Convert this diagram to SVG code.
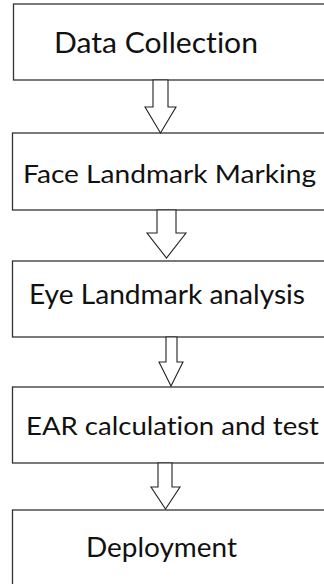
<svg xmlns="http://www.w3.org/2000/svg" width="324" height="584" viewBox="0 0 324 584">
<style>
.box{fill:#fff;stroke:#333;stroke-width:1.3}
.lbl{font-family:Lato,"Open Sans","Liberation Sans",sans-serif;fill:#111;font-variant-ligatures:none;font-feature-settings:"liga" 0,"clig" 0}
.arr{fill:#fff;stroke:#222;stroke-width:1.1;stroke-linejoin:miter}
</style>
<rect width="324" height="584" fill="#fff"/>
<g id="n1"><rect class="box" x="13.5" y="4" width="330" height="76"/><text class="lbl" x="54" y="53" font-size="29" textLength="204" lengthAdjust="spacingAndGlyphs">Data Collection</text></g>
<g id="n2"><rect class="box" x="12.5" y="133" width="330" height="77"/><text class="lbl" x="23" y="183" font-size="25" textLength="293" lengthAdjust="spacingAndGlyphs">Face Landmark Marking</text></g>
<g id="n3"><rect class="box" x="12.5" y="261" width="330" height="76"/><text class="lbl" x="29" y="304" font-size="26" textLength="276" lengthAdjust="spacingAndGlyphs">Eye Landmark analysis</text></g>
<g id="n4"><rect class="box" x="12.5" y="387" width="330" height="76"/><text class="lbl" x="26" y="435" font-size="25" textLength="293" lengthAdjust="spacingAndGlyphs">EAR calculation and test</text></g>
<g id="n5"><rect class="box" x="12.5" y="510" width="330" height="100"/><text class="lbl" x="86" y="557" font-size="26" textLength="151" lengthAdjust="spacingAndGlyphs">Deployment</text></g>
<g id="connectors">
<polygon class="arr" points="153,80 168,80 168,107 176,107 160.5,133 145,107 153,107"/>
<polygon class="arr" points="157,210 176,210 176,233 186,233 166.5,258 147,233 157,233"/>
<polygon class="arr" points="166,337 177,337 177,362 183,362 171,386 159,362 166,362"/>
<polygon class="arr" points="158,463 172,463 172,487 180,487 165.5,509 151,487 158,487"/>
</g>
</svg>
